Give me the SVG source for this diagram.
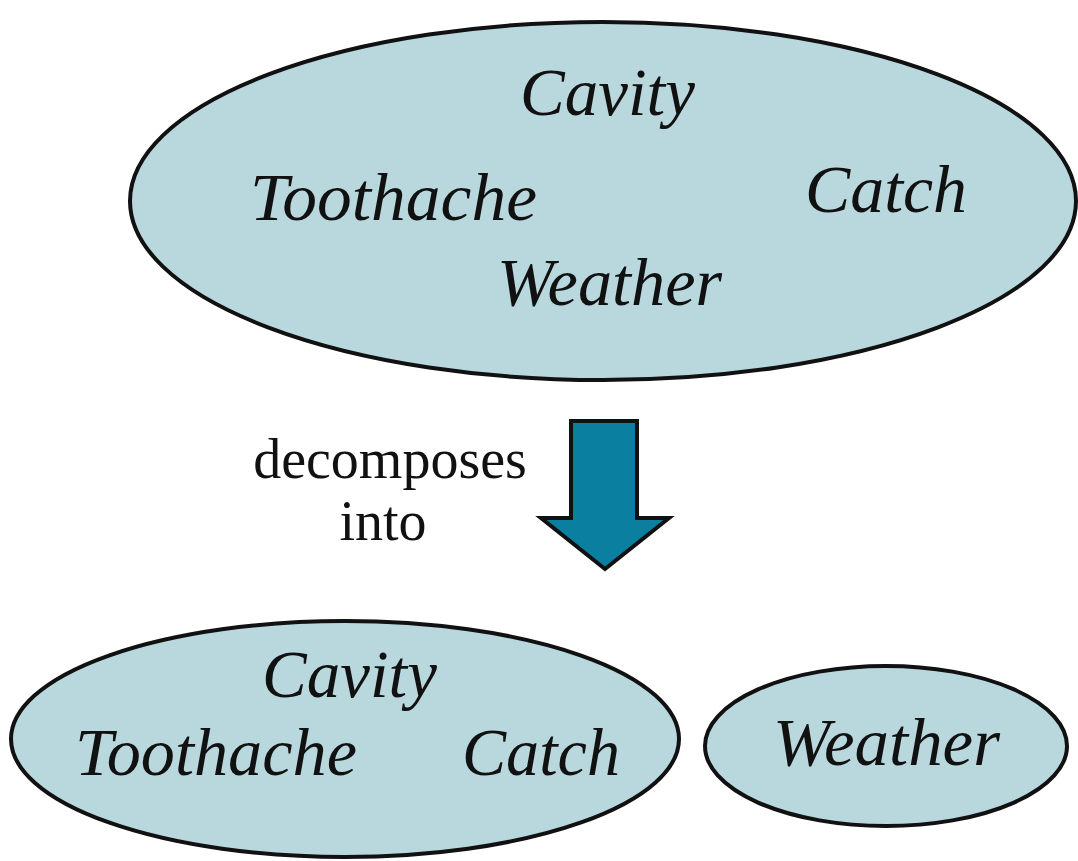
<svg xmlns="http://www.w3.org/2000/svg" width="1078" height="861" viewBox="0 0 1078 861">
<style>
.blob{fill:#b8d8de;stroke:#111;stroke-width:4}
.v{font-family:"Liberation Serif",serif;font-style:italic;font-size:68px;fill:#111}
.lbl{font-family:"Liberation Serif",serif;font-size:56px;fill:#111;text-anchor:middle}
</style>
<rect width="1078" height="861" fill="#fff"/>
<g id="joint">
<ellipse class="blob" cx="603" cy="201" rx="473" ry="179"/>
<text class="v" x="520" y="115" textLength="175" lengthAdjust="spacingAndGlyphs">Cavity</text>
<text class="v" x="250" y="220" textLength="287" lengthAdjust="spacingAndGlyphs">Toothache</text>
<text class="v" x="805" y="212" textLength="162" lengthAdjust="spacingAndGlyphs">Catch</text>
<text class="v" x="497" y="305" textLength="225" lengthAdjust="spacingAndGlyphs">Weather</text>
</g>
<g id="connectors">
<polygon points="571,421 637,421 637,518 669,518 605,569 541,518 571,518" fill="#0a7fa0" stroke="#111" stroke-width="4" stroke-linejoin="miter"/>
<text class="lbl" x="390" y="478">decomposes</text>
<text class="lbl" x="383" y="540">into</text>
</g>
<g id="dental">
<ellipse class="blob" cx="345" cy="739" rx="334" ry="118"/>
<text class="v" x="262" y="697" textLength="175" lengthAdjust="spacingAndGlyphs">Cavity</text>
<text class="v" x="75" y="775" textLength="282" lengthAdjust="spacingAndGlyphs">Toothache</text>
<text class="v" x="462" y="775" textLength="158" lengthAdjust="spacingAndGlyphs">Catch</text>
</g>
<g id="weather">
<ellipse class="blob" cx="886" cy="746" rx="181" ry="80"/>
<text class="v" x="773" y="765" textLength="227" lengthAdjust="spacingAndGlyphs">Weather</text>
</g>
</svg>
